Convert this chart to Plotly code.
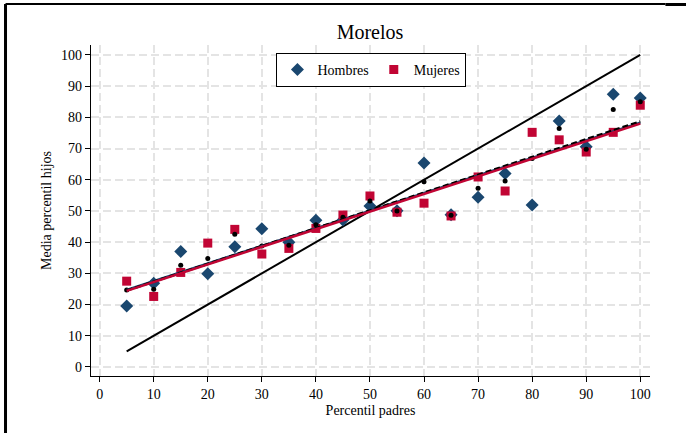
import plotly.graph_objects as go

# ---- data ----
percentil_padres = [5, 10, 15, 20, 25, 30, 35, 40, 45, 50, 55, 60, 65, 70, 75, 80, 85, 90, 95, 100]
hombres = [19.5, 26.8, 37.0, 29.9, 38.5, 44.3, 40.0, 47.0, 47.1, 51.6,
           50.1, 65.4, 48.8, 54.4, 62.0, 51.9, 78.8, 70.6, 87.4, 86.2]
mujeres = [27.5, 22.6, 30.3, 39.7, 44.1, 36.2, 38.0, 44.4, 48.7, 54.8,
           49.6, 52.5, 48.4, 60.9, 56.4, 75.2, 72.8, 68.9, 75.2, 83.9]
total = [24.7, 24.9, 32.6, 34.8, 42.5, 38.8, 39.0, 45.6, 48.0, 53.2,
         50.0, 59.4, 48.6, 57.3, 59.6, 66.8, 76.4, 69.8, 82.5, 85.0]
diag = [5, 100]
# fitted lines (values at x = 5 and x = 100)
fit_x = [5, 100]
fit_hombres = [24.7, 78.3]
fit_mujeres = [24.4, 78.0]
fit_total = [24.5, 78.7]
x_ticks = list(range(0, 101, 10))
y_ticks = list(range(0, 101, 10))

NAVY = "#1a476f"
RED = "#c10534"
FONT = "Liberation Serif"

fig = go.Figure()

# 45-degree reference line
fig.add_trace(go.Scatter(x=diag, y=diag, mode="lines",
                         line=dict(color="black", width=2), showlegend=False, hoverinfo="skip"))

fig.add_trace(go.Scatter(x=percentil_padres, y=hombres, mode="markers", name="Hombres",
                         marker=dict(symbol="diamond", color=NAVY, size=10)))
fig.add_trace(go.Scatter(x=percentil_padres, y=mujeres, mode="markers", name="Mujeres",
                         marker=dict(symbol="square", color=RED, size=9)))
fig.add_trace(go.Scatter(x=percentil_padres, y=total, mode="markers", name="Total",
                         marker=dict(symbol="circle", color="black", size=5), showlegend=False))

fig.add_trace(go.Scatter(x=fit_x, y=fit_hombres, mode="lines", line=dict(color=NAVY, width=2.5),
                         showlegend=False, hoverinfo="skip"))
fig.add_trace(go.Scatter(x=fit_x, y=fit_total, mode="lines", line=dict(color="black", width=2.5, dash="6px,3px"),
                         showlegend=False, hoverinfo="skip"))
fig.add_trace(go.Scatter(x=fit_x, y=fit_mujeres, mode="lines", line=dict(color=RED, width=2.5),
                         showlegend=False, hoverinfo="skip"))

L, R, T, B = 90.5, 649.6, 45, 376
W, H = 686, 433
pw, ph = R - L, B - T


def px(v):
    return (v - L) / pw


def py(v):
    return (B - v) / ph


shapes = [
    dict(type="line", xref="paper", yref="paper", x0=px(5), x1=px(5), y0=py(4), y1=py(433),
         line=dict(color="black", width=3)),
    dict(type="line", xref="paper", yref="paper", x0=px(5), x1=px(665), y0=py(4), y1=py(4),
         line=dict(color="black", width=2)),
    dict(type="line", xref="paper", yref="paper", x0=px(665), x1=px(686), y0=py(4.5), y1=py(4.5),
         line=dict(color="black", width=3)),
]

axis_common = dict(
    showline=True, linecolor="black", linewidth=1.3,
    ticks="outside", ticklen=5, tickcolor="black", tickwidth=1.3,
    showgrid=True, gridcolor="#e4e4e4", gridwidth=2, griddash="8px,4px",
    zeroline=False, tickfont=dict(family=FONT, size=14, color="black"),
)

fig.update_layout(
    width=W, height=H,
    margin=dict(l=L, r=W - R, t=T, b=H - B),
    paper_bgcolor="white", plot_bgcolor="white",
    title=dict(text="Morelos", x=(370 / W), xanchor="center", y=1 - 32 / H, yanchor="middle",
               yref="container", font=dict(family=FONT, size=20, color="black")),
    xaxis=dict(range=[-1.6, 101.8], tickvals=x_ticks,
               title=dict(text="Percentil padres", font=dict(family=FONT, size=14, color="black"), standoff=4),
               **axis_common),
    yaxis=dict(range=[-2.9, 103.2], tickvals=y_ticks,
               title=dict(text="Media percentil hijos", font=dict(family=FONT, size=14, color="black"), standoff=6),
               **axis_common),
    legend=dict(orientation="h", x=px(371), xanchor="center", y=py(53), yanchor="top",
                bordercolor="black", borderwidth=1, bgcolor="white",
                font=dict(family=FONT, size=14, color="black"), itemwidth=30,
                tracegroupgap=0),
    shapes=shapes,
    showlegend=True,
)

fig.write_html("out.html")
